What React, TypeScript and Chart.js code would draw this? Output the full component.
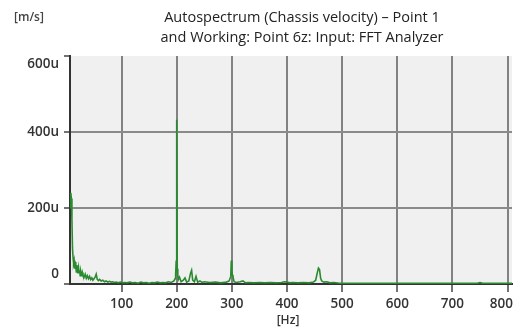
import React, { useEffect, useRef } from "react";
import { Chart, registerables } from "chart.js";

Chart.register(...registerables);

const titleLines = [
  "Autospectrum (Chassis velocity) – Point 1",
  "and Working: Point 6z: Input: FFT Analyzer",
];
const yUnit = "[m/s]";
const xUnit = "[Hz]";

const xTicks = [100, 200, 300, 400, 500, 600, 700, 800];
const yTicks = [0, 200, 400, 600];
const yTickLabels = ["0", "200u", "400u", "600u"];

const freqHz = [
  7, 8, 9, 10, 11, 12, 13, 14, 15, 16, 17, 18, 19, 20, 21, 22, 23, 24, 25, 26, 27, 28, 29, 30,
  32, 34, 36, 38, 40, 42, 44, 46, 48, 50, 52, 54, 56, 58, 60, 63, 66, 69, 72, 75, 78, 81, 84,
  87, 90, 94, 98, 102, 106, 110, 115, 120, 125, 130, 135, 140, 145, 150, 155, 160, 165, 170,
  175, 180, 185, 190, 195, 197, 198, 199, 200, 201, 202, 203, 205, 208, 212, 215, 218, 222,
  225, 227, 229, 232, 235, 238, 242, 246, 250, 260, 270, 280, 290, 295, 298, 299, 300, 301,
  302, 304, 308, 315, 320, 325, 330, 340, 350, 360, 370, 380, 390, 395, 400, 405, 410, 420,
  430, 440, 448, 452, 455, 457, 459, 461, 463, 467, 472, 478, 485, 495, 510, 530, 550, 570,
  590, 610, 630, 650, 670, 690, 710, 730, 745, 750, 755, 770, 790, 808,
];

// amplitude in micro m/s
const amplitudeU = [
  200, 240, 225, 170, 95, 70, 55, 62, 40, 58, 45, 32, 50, 38, 28, 42, 30, 36, 22, 34, 28, 20, 30, 24,
  18, 26, 15, 22, 14, 20, 12, 16, 10, 14, 18, 26, 12, 9, 12, 8, 10, 6, 8, 5, 7, 5, 6,
  4, 5, 3, 5, 3, 4, 3, 5, 3, 4, 2, 5, 3, 4, 2, 4, 3, 5, 3,
  4, 3, 6, 4, 8, 14, 22, 60, 432, 40, 22, 12, 18, 6, 10, 16, 5, 8,
  28, 36, 10, 6, 20, 5, 8, 4, 6, 4, 5, 3, 5, 8, 20, 62, 35, 24,
  20, 6, 4, 6, 8, 3, 4, 3, 4, 3, 4, 3, 4, 6, 5, 3, 4, 3,
  4, 3, 5, 10, 30, 42, 38, 15, 8, 5, 6, 3, 4, 2, 2, 2, 2, 2,
  2, 2, 2, 2, 2, 2, 2, 2, 2, 4, 2, 2, 2, 2,
];

const FONT = "'Open Sans', 'DejaVu Sans', sans-serif";

export default function App() {
  const ref = useRef<HTMLCanvasElement | null>(null);

  useEffect(() => {
    if (!ref.current) return;
    const deco = {
      id: "deco",
      beforeDraw(chart: any) {
        const { ctx, chartArea } = chart;
        ctx.save();
        ctx.fillStyle = "#f0f0f0";
        ctx.fillRect(chartArea.left, chartArea.top, chartArea.right - chartArea.left, chartArea.bottom - chartArea.top);
        ctx.restore();
      },
      afterDraw(chart: any) {
        const { ctx, chartArea } = chart;
        const xs = chart.scales.x;
        const ys = chart.scales.y;
        ctx.save();
        ctx.fillStyle = "#222";
        ctx.font = `14.5px ${FONT}`;
        ctx.textAlign = "center";
        ctx.textBaseline = "middle";
        ctx.fillText(titleLines[0], 302, 18);
        ctx.fillText(titleLines[1], 302, 38);

        ctx.fillStyle = "#444";
        ctx.font = `600 12px ${FONT}`;
        ctx.textAlign = "left";
        ctx.fillText(yUnit, 14, 18);

        ctx.fillStyle = "#333";
        ctx.font = `600 13.5px ${FONT}`;
        ctx.textAlign = "center";
        xTicks.forEach((v) => {
          let px = xs.getPixelForValue(v);
          const w = ctx.measureText(String(v)).width;
          if (px + w / 2 > chartArea.right + 1) px = chartArea.right + 1 - w / 2;
          ctx.fillText(String(v), px, 304);
        });
        ctx.font = `600 12px ${FONT}`;
        ctx.fillText(xUnit, 288, 321);

        ctx.font = `600 13.5px ${FONT}`;
        ctx.textAlign = "right";
        yTicks.forEach((v, i) => {
          let py = ys.getPixelForValue(v);
          if (i === 0) py -= 10;
          if (i === yTicks.length - 1) py += 8;
          ctx.fillText(yTickLabels[i], 59, py);
        });
        ctx.restore();
      },
    };

    const chart = new Chart(ref.current, {
      type: "line",
      data: {
        datasets: [
          {
            data: freqHz.map((f, i) => ({ x: f, y: amplitudeU[i] })),
            borderColor: "#2a8a30",
            borderWidth: 1.6,
            pointRadius: 0,
            tension: 0,
            fill: false,
          },
        ],
      },
      options: {
        responsive: false,
        animation: false,
        plugins: { legend: { display: false }, tooltip: { enabled: false }, title: { display: false } },
        layout: { padding: { top: 56, right: 11, left: 0, bottom: 0 } },
        scales: {
          x: {
            type: "linear",
            min: 6.5,
            max: 808,
            afterBuildTicks: (s: any) => {
              s.ticks = xTicks.map((v) => ({ value: v }));
            },
            afterFit: (s: any) => {
              s.height = 45;
            },
            ticks: { display: false },
            grid: {
              color: "#828282",
              lineWidth: 2,
              tickColor: "#444",
              tickLength: 8,
              tickWidth: 1.5,
            },
            border: { display: true, color: "#333", width: 2 },
          },
          y: {
            type: "linear",
            min: 0,
            max: 600,
            afterBuildTicks: (s: any) => {
              s.ticks = yTicks.map((v) => ({ value: v }));
            },
            afterFit: (s: any) => {
              s.width = 70;
            },
            ticks: { display: false },
            grid: {
              color: (c: any) =>
                c.tick && (c.tick.value === 0 || c.tick.value === 600) ? "rgba(0,0,0,0)" : "#8a8a8a",
              lineWidth: 2,
              tickColor: "#444",
              tickLength: 6,
              tickWidth: 1.5,
            },
            border: { display: true, color: "#333", width: 2 },
          },
        },
      },
      plugins: [deco],
    });
    return () => chart.destroy();
  }, []);

  return (
    <div style={{ position: "fixed", left: 0, top: 0, width: 523, height: 329, background: "#fff" }}>
      <canvas ref={ref} width={523} height={329} />
    </div>
  );
}
